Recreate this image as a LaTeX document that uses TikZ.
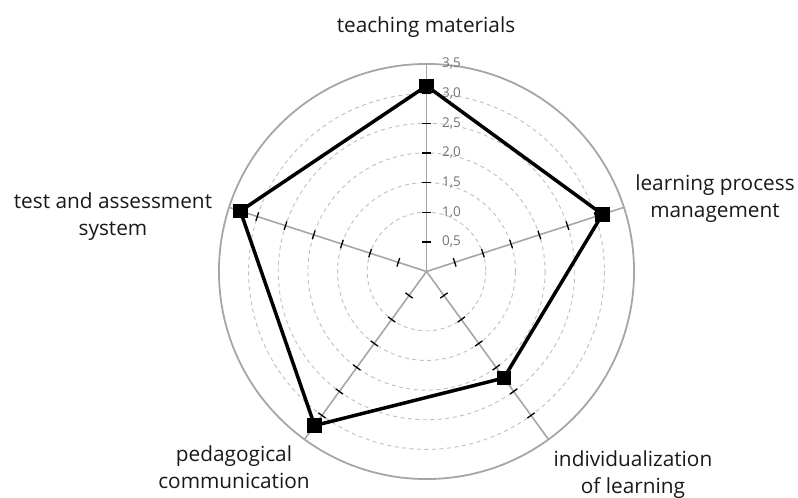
\documentclass[tikz,border=0pt]{standalone}
\usepackage{fontspec}
\setmainfont{Open Sans}
\begin{document}
\begin{tikzpicture}[x=1pt,y=-1pt,
  gridc/.style={draw=black!25, line width=0.9pt, dash pattern=on 4pt off 3.5pt},
  outerc/.style={draw=black!35, line width=1.8pt},
  axisl/.style={draw=black!35, line width=1.6pt},
  tickm/.style={draw=black, line width=1.3pt},
  ticklab/.style={anchor=west, text=black!55, font=\fontsize{13.5}{13.5}\selectfont, inner sep=0pt},
  datal/.style={draw=black, line width=3.5pt, line join=miter},
  marker/.style={fill=black, minimum size=14.5pt, inner sep=0pt, outer sep=0pt},
  axlab/.style={align=center, font=\fontsize{20.8}{27}\selectfont, text=black!90, inner sep=0pt}
]
\useasboundingbox (0,0) rectangle (798,498);
\def\cx{426.5}\def\cy{271.5}\def\u{59.3}
\coordinate (O) at (\cx,\cy);
% dashed grid circles
\foreach \k in {1.0,1.5,2.0,2.5,3.0}{
  \draw[gridc] (O) circle[radius=\k*\u];
}
\draw[outerc] (O) circle[radius=3.5*\u];
% axes (screen angles; y axis points down)
\foreach \a/\n in {-90/A,-18/B,54/C,126/D,198/E}{
  \coordinate (end\n) at ([shift={(\a:3.5*\u)}]O);
  \draw[axisl] (O) -- (end\n);
}
% ticks
\foreach \a in {-90,-18,54,126,198}{
  \foreach \k in {0.5,1.0,1.5,2.0,2.5,3.0}{
    \draw[tickm] ([shift={(\a:\k*\u)}]O) ++(\a+90:4.5) -- ++(\a-90:9);
  }
}
% tick labels
\foreach \k/\t in {0.5/{0,5},1.0/{1,0},1.5/{1,5},2.0/{2,0},2.5/{2,5},3.0/{3,0},3.5/{3,5}}{
  \node[ticklab] (tl\k) at (442,{\cy-\k*\u}) {\t};
}
% data markers
\node[marker] (pA) at ([shift={(-90:3.13*\u)}]O) {};
\node[marker] (pB) at ([shift={(-18:3.12*\u)}]O) {};
\node[marker] (pC) at ([shift={(54:2.22*\u)}]O) {};
\node[marker] (pD) at ([shift={(126:3.21*\u)}]O) {};
\node[marker] (pE) at ([shift={(198:3.30*\u)}]O) {};
\draw[datal] (pA.center) -- (pB.center) -- (pC.center) -- (pD.center) -- (pE.center) -- cycle;
\node[marker] at (pA) {};
\node[marker] at (pB) {};
\node[marker] at (pC) {};
\node[marker] at (pD) {};
\node[marker] at (pE) {};
% axis labels (base = baseline of last line)
\node[axlab, anchor=base] (lA) at (426,32) {teaching materials};
\node[axlab, anchor=base] (lB) at (715,217) {learning process\\management};
\node[axlab, anchor=base] (lC) at (633,493) {individualization\\of learning};
\node[axlab, anchor=base] (lD) at (234,488) {pedagogical\\communication};
\node[axlab, anchor=base] (lE) at (113,235) {test and assessment\\system};
\end{tikzpicture}
\end{document}
